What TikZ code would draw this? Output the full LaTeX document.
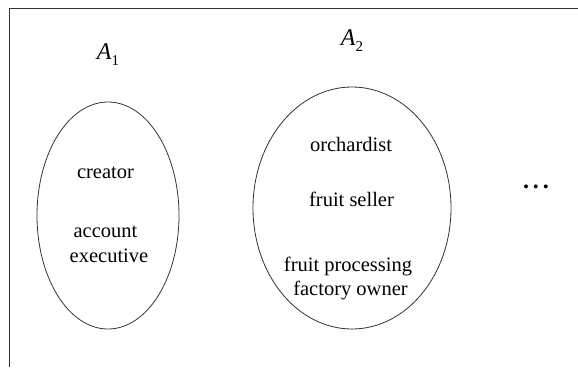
\documentclass[tikz,border=0pt]{standalone}
\usepackage{fontspec}
\setmainfont{Liberation Serif}
\usetikzlibrary{shapes.geometric}
\tikzset{
  frameline/.style={draw=black!80, line width=1pt},
  setshape/.style={draw=black!80, line width=0.8pt, ellipse, inner sep=0pt},
  lbl/.style={font=\fontsize{20.5}{25}\selectfont, inner sep=0pt, anchor=base},
  setname/.style={font=\fontsize{24}{24}\selectfont, inner sep=0pt, anchor=base}
}
\newcommand{\setlabel}[1]{\textit{A}\raisebox{-6pt}{\fontsize{15}{15}\selectfont #1}}
\begin{document}
\begin{tikzpicture}[x=1pt,y=-1pt]
\useasboundingbox (0,0) rectangle (578,367);
% frame
\coordinate (tl) at (9,8);
\coordinate (tr) at (578,8);
\coordinate (bl) at (9,367);
\draw[frameline] (tr) -- (tl) -- (bl);
% sets
\node[setshape, minimum width=142pt, minimum height=227pt] (e1) at (108,215.5) {};
\node[setshape, minimum width=198pt, minimum height=242pt] (e2) at (352,208) {};
% set names
\node[setname] (a1) at (108,59) {\setlabel{1}};
\node[setname] (a2) at (352,45) {\setlabel{2}};
% members
\node[lbl] (creator) at (105.5,178) {creator};
\node[lbl] (acc1) at (105.5,237) {account};
\node[lbl] (acc2) at (109,262) {executive};
\node[lbl] (orch) at (351,151) {orchardist};
\node[lbl] (seller) at (351.5,206) {fruit seller};
\node[lbl] (proc1) at (348,271) {fruit processing};
\node[lbl] (proc2) at (350.5,295) {factory owner};
% ellipsis
\node[font=\fontsize{24}{24}\selectfont\bfseries, inner sep=0pt] (dots) at (536,187) {.\kern4pt.\kern4pt.};
\end{tikzpicture}
\end{document}
